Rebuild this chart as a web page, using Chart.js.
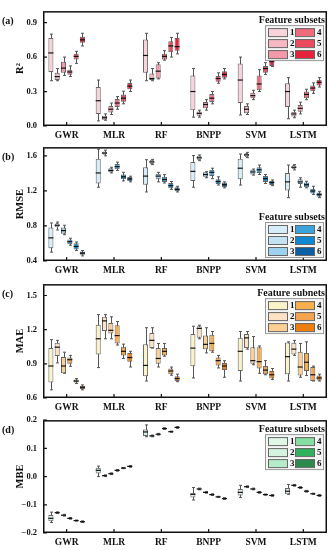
<!DOCTYPE html>
<html>
<head>
<meta charset="utf-8">
<script src="https://cdn.jsdelivr.net/npm/chart.js@4.4.0/dist/chart.umd.min.js"></script>
<style>
  body { margin: 0; background: #fff; width: 329px; height: 550px; position: relative; overflow: hidden; }
  canvas { position: absolute; left: 0; }
</style>
</head>
<body>
<canvas id="panelA"></canvas>
<canvas id="panelB"></canvas>
<canvas id="panelC"></canvas>
<canvas id="panelD"></canvas>
<script>
'use strict';
const models = ['GWR', 'MLR', 'RF', 'BNPP', 'SVM', 'LSTM'];
const subsets = ['1', '2', '3', '4', '5', '6'];

// each row = one feature subset, each entry = [min, q1, median, q3, max] per model
const r2Stats = [
  [[0.394, 0.47, 0.636, 0.766, 0.80], [0.044, 0.105, 0.22, 0.339, 0.40], [0.394, 0.463, 0.614, 0.752, 0.807], [0.077, 0.138, 0.30, 0.44, 0.50], [0.096, 0.20, 0.40, 0.545, 0.60], [0.063, 0.165, 0.30, 0.372, 0.421]],
  [[0.394, 0.40, 0.43, 0.463, 0.50], [0.05, 0.055, 0.072, 0.09, 0.105], [0.394, 0.40, 0.413, 0.457, 0.50], [0.077, 0.09, 0.11, 0.127, 0.138], [0.10, 0.11, 0.146, 0.174, 0.193], [0.072, 0.083, 0.105, 0.124, 0.138]],
  [[0.44, 0.463, 0.504, 0.56, 0.60], [0.10, 0.118, 0.146, 0.174, 0.20], [0.41, 0.413, 0.477, 0.537, 0.551], [0.138, 0.154, 0.187, 0.209, 0.229], [0.229, 0.242, 0.264, 0.289, 0.311], [0.105, 0.124, 0.154, 0.182, 0.207]],
  [[0.43, 0.446, 0.47, 0.49, 0.523], [0.146, 0.165, 0.20, 0.234, 0.256], [0.573, 0.578, 0.606, 0.628, 0.656], [0.193, 0.209, 0.242, 0.278, 0.30], [0.30, 0.311, 0.366, 0.44, 0.49], [0.229, 0.242, 0.275, 0.30, 0.32]],
  [[0.545, 0.578, 0.606, 0.628, 0.65], [0.193, 0.21, 0.242, 0.275, 0.303], [0.60, 0.642, 0.697, 0.738, 0.771], [0.372, 0.386, 0.413, 0.435, 0.463], [0.449, 0.463, 0.50, 0.523, 0.551], [0.284, 0.303, 0.33, 0.353, 0.375]],
  [[0.697, 0.725, 0.75, 0.777, 0.807], [0.30, 0.32, 0.347, 0.375, 0.40], [0.628, 0.656, 0.691, 0.766, 0.807], [0.41, 0.421, 0.449, 0.477, 0.50], [0.518, 0.523, 0.56, 0.587, 0.606], [0.339, 0.353, 0.38, 0.402, 0.421]]
];
const rmseStats = [
  [[0.501, 0.545, 0.664, 0.783, 0.834], [1.242, 1.285, 1.405, 1.567, 1.676], [1.188, 1.271, 1.369, 1.47, 1.556], [1.242, 1.314, 1.423, 1.531, 1.603], [1.267, 1.332, 1.459, 1.567, 1.621], [1.123, 1.206, 1.303, 1.405, 1.495]],
  [[0.754, 0.783, 0.808, 0.834, 0.845], [1.60, 1.614, 1.632, 1.65, 1.665], [1.50, 1.506, 1.531, 1.556, 1.56], [1.545, 1.549, 1.578, 1.603, 1.61], [1.58, 1.585, 1.611, 1.632, 1.64], [1.44, 1.448, 1.47, 1.495, 1.50]],
  [[0.70, 0.711, 0.747, 0.783, 0.808], [1.405, 1.412, 1.434, 1.459, 1.47], [1.303, 1.332, 1.369, 1.397, 1.412], [1.35, 1.361, 1.387, 1.412, 1.42], [1.38, 1.387, 1.416, 1.441, 1.45], [1.242, 1.278, 1.303, 1.332, 1.35]],
  [[0.58, 0.592, 0.62, 0.646, 0.66], [1.434, 1.448, 1.477, 1.506, 1.528], [1.29, 1.303, 1.33, 1.361, 1.386], [1.34, 1.369, 1.412, 1.441, 1.459], [1.387, 1.405, 1.441, 1.47, 1.495], [1.235, 1.242, 1.271, 1.296, 1.31]],
  [[0.519, 0.53, 0.566, 0.602, 0.617], [1.314, 1.332, 1.361, 1.387, 1.412], [1.217, 1.231, 1.26, 1.289, 1.307], [1.267, 1.278, 1.307, 1.332, 1.361], [1.285, 1.303, 1.34, 1.369, 1.387], [1.16, 1.17, 1.199, 1.224, 1.253]],
  [[0.458, 0.472, 0.49, 0.508, 0.52], [1.303, 1.311, 1.336, 1.358, 1.368], [1.188, 1.195, 1.217, 1.242, 1.253], [1.235, 1.242, 1.271, 1.296, 1.303], [1.26, 1.267, 1.296, 1.314, 1.325], [1.123, 1.134, 1.159, 1.181, 1.195]]
];
const maeStats = [
  [[0.672, 0.735, 0.881, 1.038, 1.112], [0.867, 0.983, 1.12, 1.244, 1.332], [0.749, 0.79, 0.886, 1.073, 1.217], [0.776, 0.878, 1.038, 1.162, 1.23], [0.749, 0.837, 1.01, 1.128, 1.184], [0.749, 0.809, 0.963, 1.087, 1.093]],
  [[0.908, 0.969, 1.046, 1.084, 1.106], [1.12, 1.189, 1.277, 1.313, 1.332], [1.038, 1.038, 1.106, 1.17, 1.217], [1.12, 1.128, 1.211, 1.23, 1.239], [1.029, 1.038, 1.128, 1.162, 1.184], [0.974, 0.983, 1.029, 1.084, 1.106]],
  [[0.817, 0.817, 0.881, 0.961, 1.002], [1.12, 1.167, 1.194, 1.258, 1.313], [0.872, 0.90, 0.947, 1.038, 1.079], [0.996, 1.029, 1.071, 1.148, 1.217], [0.892, 0.90, 0.928, 1.046, 1.14], [0.782, 0.798, 0.872, 1.005, 1.079]],
  [[0.878, 0.90, 0.936, 0.955, 0.974], [1.065, 1.079, 1.148, 1.239, 1.272], [0.967, 0.974, 1.01, 1.038, 1.079], [1.002, 1.01, 1.079, 1.156, 1.184], [0.817, 0.859, 0.919, 1.046, 1.057], [0.798, 0.837, 0.914, 0.996, 1.093]],
  [[0.727, 0.735, 0.749, 0.762, 0.77], [0.947, 0.974, 1.01, 1.051, 1.073], [0.80, 0.809, 0.837, 0.859, 0.872], [0.864, 0.886, 0.928, 0.955, 0.974], [0.804, 0.809, 0.845, 0.881, 0.928], [0.749, 0.749, 0.804, 0.872, 0.88]],
  [[0.672, 0.68, 0.694, 0.707, 0.715], [0.872, 0.919, 0.955, 0.996, 1.01], [0.743, 0.749, 0.771, 0.79, 0.809], [0.782, 0.845, 0.881, 0.908, 0.928], [0.762, 0.771, 0.804, 0.837, 0.859], [0.749, 0.754, 0.776, 0.798, 0.809]]
];
const mbeStats = [
  [[-0.163, -0.158, -0.148, -0.136, -0.126], [0.0, 0.011, 0.022, 0.031, 0.037], [0.141, 0.144, 0.158, 0.167, 0.183], [-0.083, -0.074, -0.063, -0.057, -0.039], [-0.074, -0.067, -0.056, -0.044, -0.031], [-0.063, -0.063, -0.052, -0.041, -0.028]],
  [[-0.131, -0.130, -0.128, -0.126, -0.125], [0.000, 0.001, 0.003, 0.005, 0.006], [0.141, 0.142, 0.144, 0.146, 0.147], [-0.047, -0.046, -0.044, -0.042, -0.041], [-0.039, -0.038, -0.036, -0.034, -0.033], [-0.034, -0.033, -0.031, -0.029, -0.028]],
  [[-0.140, -0.139, -0.137, -0.135, -0.134], [0.007, 0.008, 0.010, 0.012, 0.013], [0.147, 0.148, 0.150, 0.152, 0.153], [-0.059, -0.058, -0.056, -0.054, -0.053], [-0.047, -0.046, -0.044, -0.042, -0.041], [-0.042, -0.041, -0.039, -0.037, -0.036]],
  [[-0.151, -0.150, -0.148, -0.146, -0.145], [0.019, 0.020, 0.022, 0.024, 0.025], [0.167, 0.168, 0.170, 0.172, 0.173], [-0.067, -0.066, -0.064, -0.062, -0.061], [-0.059, -0.058, -0.056, -0.054, -0.053], [-0.055, -0.054, -0.052, -0.050, -0.049]],
  [[-0.158, -0.157, -0.156, -0.155, -0.154], [0.028, 0.029, 0.030, 0.031, 0.032], [0.157, 0.158, 0.159, 0.160, 0.161], [-0.074, -0.073, -0.072, -0.071, -0.070], [-0.066, -0.065, -0.064, -0.063, -0.062], [-0.063, -0.062, -0.061, -0.060, -0.059]],
  [[-0.163, -0.162, -0.160, -0.158, -0.157], [0.033, 0.034, 0.036, 0.038, 0.039], [0.171, 0.172, 0.174, 0.176, 0.177], [-0.081, -0.080, -0.078, -0.076, -0.075], [-0.070, -0.069, -0.067, -0.065, -0.064], [-0.070, -0.069, -0.067, -0.065, -0.064]]
];

const r2Ticks = [0, 0.3, 0.6, 0.9];
const rmseTicks = [0.4, 0.8, 1.2, 1.6];
const maeTicks = [0.6, 0.9, 1.2, 1.5];
const mbeTicks = [-0.2, -0.1, 0, 0.1, 0.2];

const redColors = ['#f9d3da', '#f6b8c3', '#f29aaa', '#ee6b7c', '#ec4b5d', '#e6233a'];
const blueColors = ['#d6eef9', '#c3e3f3', '#9dd2ee', '#3ba3dc', '#0f88d0', '#0b5fa5'];
const orangeColors = ['#fbf3c8', '#fde2c6', '#fcd092', '#f7ae4c', '#f5a552', '#ef7e0e'];
const greenColors = ['#e0f7e6', '#d4f3e0', '#b5ebc8', '#86dda1', '#2fb15d', '#2b8a4c'];
const mbeBoxColors = ['#d9f2de', '#5ea3d2', '#4f96c8', '#3f87b9', '#1d3a52', '#2e6fa6'];

const serif = '"Liberation Serif", "Times New Roman", serif';

function fmt(v) {
  return v.toFixed(1).replace('-', '\u2212');
}

function makeBoxPlugin(cfg) {
  return {
    id: 'boxWhiskers',
    beforeDatasetsDraw(chart) {
      const ctx = chart.ctx;
      const y = chart.scales.y;
      ctx.save();
      ctx.strokeStyle = '#555';
      ctx.lineWidth = 1;
      cfg.stats.forEach((rows, i) => {
        chart.getDatasetMeta(i).data.forEach((bar, j) => {
          const s = rows[j];
          const x = Math.round(bar.x) + 0.5;
          const cap = bar.width * 0.3;
          const yMin = y.getPixelForValue(s[0]);
          const yMax = y.getPixelForValue(s[4]);
          ctx.beginPath();
          ctx.moveTo(x, yMax); ctx.lineTo(x, yMin);
          ctx.moveTo(x - cap, yMax); ctx.lineTo(x + cap, yMax);
          ctx.moveTo(x - cap, yMin); ctx.lineTo(x + cap, yMin);
          ctx.stroke();
        });
      });
      ctx.restore();
    },
    afterDatasetsDraw(chart) {
      const ctx = chart.ctx;
      const y = chart.scales.y;
      ctx.save();
      ctx.strokeStyle = '#111';
      ctx.lineWidth = 1.2;
      cfg.stats.forEach((rows, i) => {
        chart.getDatasetMeta(i).data.forEach((bar, j) => {
          const ym = y.getPixelForValue(rows[j][2]);
          ctx.beginPath();
          ctx.moveTo(bar.x - bar.width / 2, ym);
          ctx.lineTo(bar.x + bar.width / 2, ym);
          ctx.stroke();
        });
      });
      ctx.restore();
    },
    afterDraw(chart) {
      const ctx = chart.ctx;
      const a = chart.chartArea;
      const x = chart.scales.x;
      const y = chart.scales.y;
      ctx.save();
      // frame
      ctx.strokeStyle = '#111';
      ctx.lineWidth = 1.5;
      ctx.strokeRect(a.left + 0.75, a.top + 0.75, a.right - a.left - 1.5, a.bottom - a.top - 1.5);
      // inward ticks
      ctx.lineWidth = 1.2;
      ctx.beginPath();
      cfg.ticks.forEach(v => {
        const py = y.getPixelForValue(v);
        ctx.moveTo(a.left, py); ctx.lineTo(a.left + 4, py);
      });
      models.forEach((m, i) => {
        const px = x.getPixelForTick(i);
        ctx.moveTo(px, a.bottom); ctx.lineTo(px, a.bottom - 4);
      });
      ctx.stroke();
      // y title
      ctx.fillStyle = '#111';
      ctx.font = 'bold 10.5px ' + serif;
      ctx.textAlign = 'center';
      ctx.textBaseline = 'middle';
      ctx.save();
      ctx.translate(20, (a.top + a.bottom) / 2);
      ctx.rotate(-Math.PI / 2);
      ctx.fillText(cfg.title, 0, 0);
      ctx.restore();
      // panel letter
      ctx.font = 'bold 10px ' + serif;
      ctx.textAlign = 'left';
      ctx.fillText(cfg.letter, 2, a.top + 10);
      // legend
      const R = a.right;
      const boxTop = cfg.legendBottom ? a.bottom - 39 : a.top + 14;
      ctx.textAlign = 'right';
      ctx.fillText(cfg.legendTitle, R - 2, boxTop - 5);
      ctx.fillStyle = '#f6f6f6';
      ctx.fillRect(R - 62, boxTop, 58, 35);
      ctx.strokeStyle = '#999';
      ctx.lineWidth = 1;
      ctx.strokeRect(R - 61.5, boxTop + 0.5, 58, 35);
      ctx.font = 'bold 9px ' + serif;
      ctx.textAlign = 'left';
      subsets.forEach((lab, k) => {
        const col = k < 3 ? 0 : 1;
        const row = k % 3;
        const sx = R - 59 + col * 27;
        const sy = boxTop + 3 + row * 11;
        ctx.fillStyle = cfg.legendColors[k];
        ctx.fillRect(sx, sy, 19, 8);
        ctx.strokeStyle = '#666';
        ctx.strokeRect(sx + 0.5, sy + 0.5, 19, 8);
        ctx.fillStyle = '#111';
        ctx.fillText(lab, sx + 22, sy + 4.5);
      });
      ctx.restore();
    }
  };
}

function makePanel(cfg) {
  const canvas = document.getElementById(cfg.id);
  canvas.width = 329;
  canvas.height = cfg.bottom - cfg.top + 18;
  canvas.style.top = (cfg.top - 4) + 'px';
  const datasets = cfg.stats.map((rows, i) => ({
    label: subsets[i],
    data: rows.map(s => [s[1], s[3]]),
    backgroundColor: cfg.boxColors[i],
    borderColor: '#666',
    borderWidth: 1,
    borderSkipped: false,
    borderRadius: cfg.radius ? cfg.radius[i] : 0,
    categoryPercentage: 0.8,
    barPercentage: 0.8
  }));
  return new Chart(canvas, {
    type: 'bar',
    data: { labels: models, datasets: datasets },
    options: {
      responsive: false,
      animation: false,
      devicePixelRatio: 1,
      layout: { padding: { top: 4, right: 2, left: 0, bottom: 0 } },
      plugins: { legend: { display: false }, tooltip: { enabled: false } },
      scales: {
        x: {
          grid: { display: false, drawTicks: false },
          border: { display: false },
          ticks: { color: '#111', font: { family: serif, size: 9.5, weight: 'bold' }, padding: 4 },
          afterFit: s => { s.height = 14; }
        },
        y: {
          min: cfg.min,
          max: cfg.max,
          afterBuildTicks: s => { s.ticks = cfg.ticks.map(v => ({ value: v })); },
          grid: { display: false, drawTicks: false },
          border: { display: false },
          ticks: { color: '#111', font: { family: serif, size: 8.5, weight: 'bold' }, padding: 6, callback: v => fmt(v) },
          afterFit: s => { s.width = 43; }
        }
      }
    },
    plugins: [makeBoxPlugin(cfg)]
  });
}

makePanel({ id: 'panelA', top: 4, bottom: 126, min: 0, max: 1.0, ticks: r2Ticks, stats: r2Stats,
  boxColors: redColors, legendColors: redColors, title: 'R\u00b2', letter: '(a)', legendTitle: 'Feature subsets' });
makePanel({ id: 'panelB', top: 140, bottom: 261, min: 0.4, max: 1.7, ticks: rmseTicks, stats: rmseStats,
  boxColors: blueColors, legendColors: blueColors, title: 'RMSE', letter: '(b)', legendTitle: 'Feature subsets',
  legendBottom: true, radius: [0, 3, 0, 0, 0, 0] });
makePanel({ id: 'panelC', top: 277, bottom: 398, min: 0.6, max: 1.6, ticks: maeTicks, stats: maeStats,
  boxColors: orangeColors, legendColors: orangeColors, title: 'MAE', letter: '(c)', legendTitle: 'Feature subnets' });
makePanel({ id: 'panelD', top: 413, bottom: 533, min: -0.2, max: 0.2, ticks: mbeTicks, stats: mbeStats,
  boxColors: mbeBoxColors, legendColors: greenColors, title: 'MBE', letter: '(d)', legendTitle: 'Feature subsets',
  radius: [0, 3, 3, 3, 3, 3] });
</script>
</body>
</html>
